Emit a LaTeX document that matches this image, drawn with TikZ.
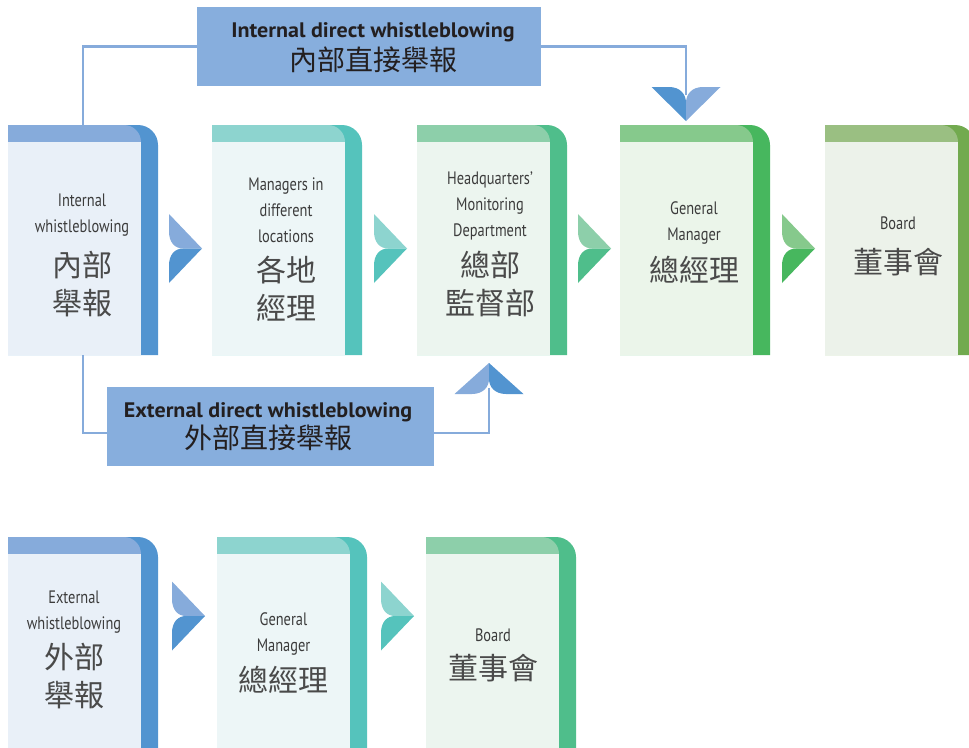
\documentclass[tikz,border=0pt]{standalone}
\usepackage{fontspec}
\newfontfamily\engfont{PT Sans}[FakeStretch=0.8]
\newfontfamily\lblfont{PT Sans}[FakeStretch=1.05]
\newfontfamily\cjkfont{Noto Sans CJK TC}
\definecolor{bLt}{HTML}{86ABDB}\definecolor{bDk}{HTML}{5294D0}\definecolor{bBg}{HTML}{E9F0F8}
\definecolor{tLt}{HTML}{8DD4CF}\definecolor{tDk}{HTML}{55C3BC}\definecolor{tBg}{HTML}{EDF6F7}
\definecolor{sLt}{HTML}{8DCFAA}\definecolor{sDk}{HTML}{4FBE8B}\definecolor{sBg}{HTML}{ECF5EF}
\definecolor{gLt}{HTML}{86C98C}\definecolor{gDk}{HTML}{47B75E}\definecolor{gBg}{HTML}{EBF5EA}
\definecolor{oLt}{HTML}{9ABF82}\definecolor{oDk}{HTML}{72AA4F}\definecolor{oBg}{HTML}{ECF2EA}
\definecolor{lblfill}{HTML}{87AEDD}
\definecolor{txt}{HTML}{3C3C3C}
\definecolor{ctx}{HTML}{4A4A4A}
\definecolor{lbltxt}{HTML}{231F20}
% card: #1 left x, #2 top y, #3 bottom y, #4 colour prefix, #5 name
\newcommand\mycard[5]{%
  \fill[#4Dk] (#1,#3) -- (#1,#2) -- ({#1+130},#2) arc[start angle=-90,end angle=0,radius=20] -- ({#1+150},#3) -- cycle;
  \fill[#4Lt] (#1,{#2+17}) -- (#1,#2) -- ({#1+116},#2) arc[start angle=-90,end angle=0,radius=17] -- cycle;
  \fill[#4Bg] (#1,{#2+17}) rectangle ({#1+133},#3);
  \node[cardbox,minimum height={(#3-#2)*1pt}] (#5) at ({#1+75},{(#2+#3)/2}) {};
}
% right-pointing arrow: #1 left x, #2 centre y, #3 light, #4 dark
\newcommand\rarrow[4]{%
  \fill[#3] (#1,{#2-34.5}) -- ({#1+33},#2) -- ({#1+14},#2) .. controls ({#1+6},#2) and (#1,{#2-6}) .. (#1,{#2-17}) -- cycle;
  \fill[#4] (#1,{#2+34.5}) -- ({#1+33},#2) -- ({#1+14},#2) .. controls ({#1+6},#2) and (#1,{#2+6}) .. (#1,{#2+17}) -- cycle;
}
% down arrow: #1 centre x, #2 top y, #3 left colour, #4 right colour
\newcommand\darrow[4]{%
  \fill[#3] ({#1-34.5},#2) -- (#1,{#2+34}) -- (#1,{#2+16}) .. controls (#1,{#2+7}) and ({#1-6},#2) .. ({#1-17},#2) -- cycle;
  \fill[#4] ({#1+34.5},#2) -- (#1,{#2+34}) -- (#1,{#2+16}) .. controls (#1,{#2+7}) and ({#1+6},#2) .. ({#1+17},#2) -- cycle;
}
% up arrow: #1 centre x, #2 bottom y, #3 left colour, #4 right colour
\newcommand\uarrow[4]{%
  \fill[#3] ({#1-34.5},#2) -- (#1,{#2-31}) -- (#1,{#2-15}) .. controls (#1,{#2-7}) and ({#1-6},#2) .. ({#1-17},#2) -- cycle;
  \fill[#4] ({#1+34.5},#2) -- (#1,{#2-31}) -- (#1,{#2-15}) .. controls (#1,{#2-7}) and ({#1+6},#2) .. ({#1+17},#2) -- cycle;
}
\tikzset{
  cardbox/.style={minimum width=150pt,inner sep=0pt,draw=none},
  etxt/.style={font=\engfont\fontsize{18}{26}\selectfont,text=txt,align=center,inner sep=0pt},
  ctxt/.style={font=\cjkfont\fontsize{30}{37.5}\selectfont,text=ctx,align=center,inner sep=0pt},
  lbl/.style={fill=lblfill,minimum height=79pt,inner sep=0pt},
  lbltext/.style={text=lbltxt,align=center,inner sep=0pt},
  conn/.style={draw=bLt,line width=2.5pt},
}
\begin{document}
\begin{tikzpicture}[x=1pt,y=-1pt]
\useasboundingbox (0,0) rectangle (969,747);
\clip (0,0) rectangle (969,747);
\coordinate (dtop) at (686,95);
\coordinate (utop) at (489,388);
% cards top row
\mycard{8}{125}{355}{b}{c1}
\mycard{212}{125}{355}{t}{c2}
\mycard{417}{125}{355}{s}{c3}
\mycard{620}{125}{355}{g}{c4}
\mycard{825}{125}{355}{o}{c5}
% cards bottom row
\mycard{8}{537}{770}{b}{d1}
\mycard{217}{537}{770}{t}{d2}
\mycard{426}{537}{770}{s}{d3}
% label boxes
\node[lbl,minimum width=344pt] (ltop) at (369,46.5) {};
\node[lbltext,font=\lblfont\bfseries\fontsize{21}{22}\selectfont] (ltope) at (373,32) {Internal direct whistleblowing};
\node[lbltext,font=\cjkfont\fontsize{28}{30}\selectfont] (ltopc) at (373,60) {內部直接舉報};
\node[lbl,minimum width=327pt] (lbot) at (270.5,426.5) {};
\node[lbltext,font=\lblfont\bfseries\fontsize{21}{22}\selectfont] (lbote) at (268,412) {External direct whistleblowing};
\node[lbltext,font=\cjkfont\fontsize{28}{30}\selectfont] (lbotc) at (268,437.5) {外部直接舉報};
% connectors
\draw[conn] (c1.north) |- (ltop.west);
\draw[conn] (ltop.east) -| (dtop);
\draw[conn] (c1.south) |- ([yshift=-6.5pt]lbot.west);
\draw[conn] ([yshift=-6.5pt]lbot.east) -| (utop);
% arrows
\darrow{686}{87}{bDk}{bLt}
\uarrow{489}{394}{bLt}{bDk}
\rarrow{169}{248.5}{bLt}{bDk}
\rarrow{374}{248.5}{tLt}{tDk}
\rarrow{578}{248.5}{sLt}{sDk}
\rarrow{782}{248.5}{gLt}{gDk}
\rarrow{172}{616}{bLt}{bDk}
\rarrow{381}{616}{tLt}{tDk}
% texts top row
\node[etxt] (c1e) at (82,215) {Internal\\whistleblowing};
\node[ctxt] (c1c) at (82,284) {內部\\舉報};
\node[etxt] (c2e) at (286,210) {Managers in\\different\\locations};
\node[ctxt] (c2c) at (286,288.5) {各地\\經理};
\node[etxt] (c3e) at (490,205.5) {Headquarters’\\Monitoring\\Department};
\node[ctxt] (c3c) at (490,284) {總部\\監督部};
\node[etxt] (c4e) at (694,223) {General\\Manager};
\node[ctxt] (c4c) at (694,270) {總經理};
\node[etxt] (c5e) at (898,223) {Board};
\node[ctxt] (c5c) at (898,262) {董事會};
% texts bottom row
\node[etxt] (d1e) at (74,612) {External\\whistleblowing};
\node[ctxt] (d1c) at (74,676) {外部\\舉報};
\node[etxt] (d2e) at (283.5,634) {General\\Manager};
\node[ctxt] (d2c) at (283.5,680) {總經理};
\node[etxt] (d3e) at (493,635) {Board};
\node[ctxt] (d3c) at (493,668) {董事會};
\end{tikzpicture}
\end{document}
